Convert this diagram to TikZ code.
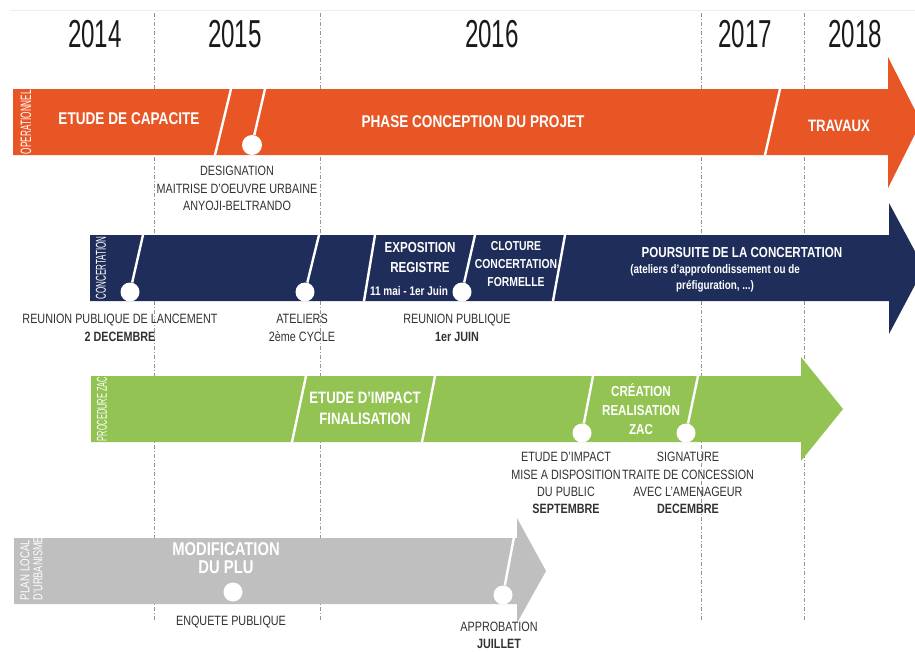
\documentclass[tikz,border=0pt]{standalone}
\usepackage{fontspec}
\setmainfont{Liberation Sans}[FakeStretch=0.8]
\newfontfamily\yearfont{Liberation Sans}[FakeStretch=0.62]
\newcommand{\fsz}[2]{\fontsize{#1}{#2}\selectfont}
\definecolor{orangeband}{RGB}{232,86,38}
\definecolor{navyband}{RGB}{31,45,90}
\definecolor{greenband}{RGB}{146,195,83}
\definecolor{grayband}{RGB}{191,191,191}
\definecolor{labelgray}{RGB}{50,50,50}
\definecolor{yeargray}{RGB}{26,26,26}
\definecolor{gridgray}{RGB}{150,150,150}
\begin{document}
\begin{tikzpicture}[x=1pt,y=-1pt,
  lbl/.style={text=labelgray, align=center, inner sep=0pt, font=\fsz{13.5}{17.5}},
  bandtxt/.style={text=white, align=center, inner sep=0pt},
  yr/.style={font=\yearfont\fsz{39}{39}, text=yeargray, inner sep=0pt},
  divider/.style={draw=white, line width=2.4pt},
  dot/.style={circle, fill=white, draw=none, minimum size=19pt, inner sep=0pt},
  vlab/.style={rotate=90, text=white, inner sep=0pt},
  ygrid/.style={draw=gridgray, line width=0.9pt, dash pattern=on 4pt off 2pt on 1pt off 2pt}]
\useasboundingbox (0,0) rectangle (915,651);
\fill[white] (0,0) rectangle (915,651);
\draw[black!7, line width=0.8pt] (10,10) -- (915,10);
% year separators
\foreach \x in {154,320,701,804} \draw[ygrid] (\x,13) -- (\x,622);
% years
\node[yr] (y2014) at (95,34) {2014};
\node[yr] (y2015) at (235,34) {2015};
\node[yr] (y2016) at (492,34) {2016};
\node[yr] (y2017) at (745,34) {2017};
\node[yr] (y2018) at (855,34) {2018};

% ===== orange band =====
\fill[orangeband] (13,89) -- (888,89) -- (888,57) -- (921,122) -- (888,188) -- (888,155) -- (13,155) -- cycle;
\draw[divider] (231,89) -- (215,155);
\node[dot, minimum size=20pt] (o1) at (252,145) {};
\draw[divider] (265,89) -- (o1);
\draw[divider] (780,89) -- (765,155);
\node[vlab] (vop) at (26,122) {\resizebox{64pt}{10.5pt}{OPERATIONNEL}};
\node[bandtxt, font=\bfseries\fsz{17}{20}] (capa) at (129,118.5) {ETUDE DE CAPACITE};
\node[bandtxt, font=\bfseries\fsz{17}{20}] (phase) at (473,122) {PHASE CONCEPTION DU PROJET};
\node[bandtxt, font=\bfseries\fsz{16.5}{20}] (trav) at (839,125.5) {TRAVAUX};
\node[lbl] (desig) at (237,188.5) {DESIGNATION\\MAITRISE D’OEUVRE URBAINE\\ANYOJI-BELTRANDO};

% ===== navy band =====
\fill[navyband] (90,235) -- (889,235) -- (889,203) -- (924,268) -- (889,334) -- (889,301) -- (90,301) -- cycle;
\node[dot] (n1) at (130,292) {};
\draw[divider] (143,235) -- (n1);
\node[dot] (n2) at (305,292) {};
\draw[divider] (319,235) -- (n2);
\draw[divider] (375,235) -- (364,301);
\node[dot] (n3) at (462,292) {};
\draw[divider] (475,235) -- (n3);
\draw[divider] (565,235) -- (553,301);
\node[vlab] (vconc) at (101,268) {\resizebox{63pt}{10pt}{CONCERTATION}};
\node[bandtxt, font=\bfseries\fsz{14.5}{20}] (expo) at (420,258) {EXPOSITION\\REGISTRE};
\node[bandtxt, font=\bfseries\fsz{12.5}{14}] (dates) at (409,291) {11 mai - 1er Juin};
\node[bandtxt, font=\bfseries\fsz{13}{18}] (clot) at (516,264) {CLOTURE\\CONCERTATION\\FORMELLE};
\node[bandtxt, font=\bfseries\fsz{14.5}{16}] (pours) at (742,253) {POURSUITE DE LA CONCERTATION};
\node[bandtxt, font=\bfseries\fsz{12.3}{16}] (atel) at (715,278.5) {(ateliers d’approfondissement ou de\\préfiguration, ...)};
\node[lbl, font=\fsz{13.5}{18}] (reun1) at (120,328) {REUNION PUBLIQUE DE LANCEMENT\\\textbf{2 DECEMBRE}};
\node[lbl, font=\fsz{13.5}{18}] (atl2) at (302,328) {ATELIERS\\2ème CYCLE};
\node[lbl, font=\fsz{13.5}{18}] (reun2) at (457,328) {REUNION PUBLIQUE\\\textbf{1er JUIN}};

% ===== green band =====
\fill[greenband] (91,376) -- (801,376) -- (801,357) -- (843,409) -- (801,461) -- (801,442) -- (91,442) -- cycle;
\draw[divider] (306,376) -- (292,442);
\draw[divider] (435,376) -- (422,442);
\node[dot] (g1) at (582,433) {};
\draw[divider] (593,376) -- (g1);
\node[dot] (g2) at (686,433) {};
\draw[divider] (698,376) -- (g2);
\node[vlab] (vzac) at (102,409) {\resizebox{64pt}{10pt}{PROCEDURE ZAC}};
\node[bandtxt, font=\bfseries\fsz{16.5}{21}] (impact) at (365,408.5) {ETUDE D’IMPACT\\FINALISATION};
\node[bandtxt, font=\bfseries\fsz{14.5}{19}] (creat) at (641,409) {CRÉATION\\REALISATION\\ZAC};
\node[lbl, font=\fsz{13.5}{17.3}] (mise) at (566,483) {ETUDE D’IMPACT\\MISE A DISPOSITION\\DU PUBLIC\\\textbf{SEPTEMBRE}};
\node[lbl, font=\fsz{13.5}{17.3}] (sign) at (688,483) {SIGNATURE\\TRAITE DE CONCESSION\\AVEC L’AMENAGEUR\\\textbf{DECEMBRE}};

% ===== gray band =====
\fill[grayband] (14,538) -- (517,538) -- (517,518) -- (546,571) -- (517,623) -- (517,604) -- (14,604) -- cycle;
\node[dot] (p1) at (503,595) {};
\draw[divider] (514,537) -- (p1);
\node[dot] (p2) at (233,592) {};
\node[vlab] (vplan) at (25,570) {\resizebox{60pt}{9pt}{PLAN LOCAL}};
\node[vlab] (vurb) at (38,568.5) {\resizebox{63pt}{9pt}{D’URBANISME}};
\node[bandtxt, font=\bfseries\fsz{18.5}{18}] (modif) at (226,558) {MODIFICATION\\DU PLU};
\node[lbl] (enq) at (231,622) {ENQUETE PUBLIQUE};
\node[lbl, font=\fsz{13.5}{17}] (appro) at (499,635.5) {APPROBATION\\\textbf{JUILLET}};
\end{tikzpicture}
\end{document}
